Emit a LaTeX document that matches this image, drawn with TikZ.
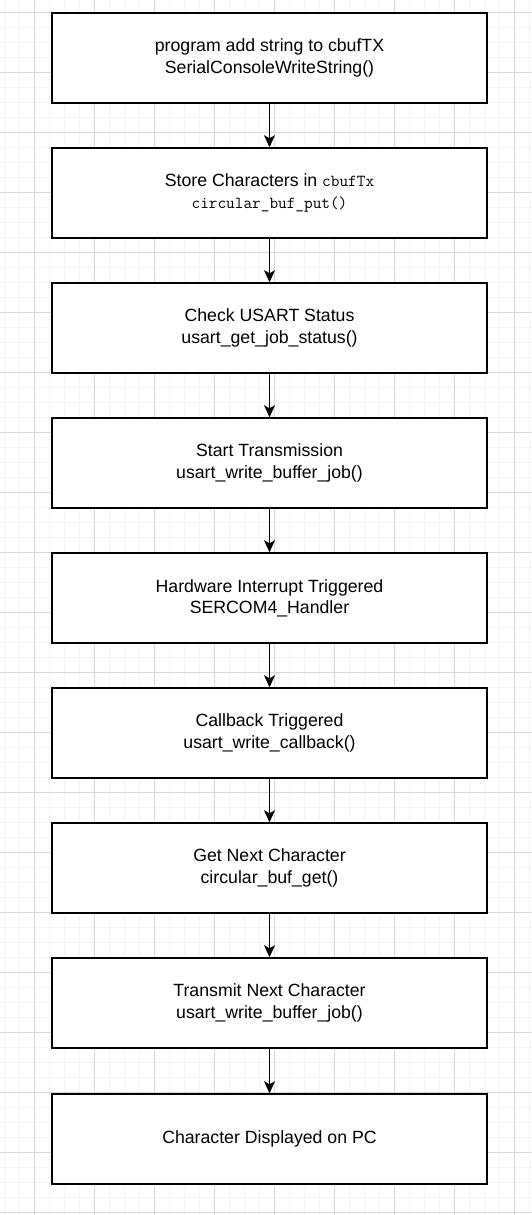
\documentclass[tikz,border=0pt]{standalone}
\usepackage{fontspec}
\setmainfont{Liberation Sans}
\usetikzlibrary{arrows.meta}
\definecolor{gmin}{HTML}{F4F4F4}
\definecolor{gmaj}{HTML}{D8D8D8}
\newcommand{\mono}[1]{{\ttfamily\fontsize{16.8}{21.2}\selectfont #1}}
\begin{document}
\begin{tikzpicture}[x=1pt,y=-1pt,
  box/.style={draw=black, line width=1.5pt, fill=white, minimum width=435pt, minimum height=90pt,
    inner sep=0pt, align=center, font=\fontsize{17.7}{21.2}\selectfont},
  flow/.style={draw=black, line width=1.4pt, -{Stealth[length=12pt,width=11pt,inset=3pt]}},
  gridmin/.style={draw=gmin, line width=1pt},
  gridmaj/.style={draw=gmaj, line width=1pt}]
\fill[white] (0,0) rectangle (532,1215);
\useasboundingbox (0,0) rectangle (532,1215);
\foreach \i in {0,...,35} { \draw[gridmin] (4.5+15*\i,0) -- (4.5+15*\i,1215); }
\foreach \i in {0,...,80} { \draw[gridmin] (0,12.5+15*\i) -- (532,12.5+15*\i); }
\foreach \i in {0,...,8} { \draw[gridmaj] (34.5+60*\i,0) -- (34.5+60*\i,1215); }
\foreach \i in {0,...,20} { \draw[gridmaj] (0,12.5+60*\i) -- (532,12.5+60*\i); }

\node[box] (b1) at (269.5,58) {program add string to cbufTX\\SerialConsoleWriteString()};
\node[box] (b2) at (269.5,193) {Store Characters in \mono{cbufTx}\\\mono{circular\_buf\_put()}};
\node[box] (b3) at (269.5,328) {Check USART Status\\usart\_get\_job\_status()};
\node[box] (b4) at (269.5,463) {Start Transmission\\usart\_write\_buffer\_job()};
\node[box] (b5) at (269.5,598) {Hardware Interrupt Triggered\\SERCOM4\_Handler};
\node[box] (b6) at (269.5,733) {Callback Triggered\\usart\_write\_callback()};
\node[box] (b7) at (269.5,868) {Get Next Character\\circular\_buf\_get()};
\node[box] (b8) at (269.5,1003) {Transmit Next Character\\usart\_write\_buffer\_job()};
\node[box] (b9) at (269.5,1139) {Character Displayed on PC};

\foreach \a/\b in {b1/b2,b2/b3,b3/b4,b4/b5,b5/b6,b6/b7,b7/b8,b8/b9}
  \draw[flow] (\a.south) -- (\b.north);
\end{tikzpicture}
\end{document}
